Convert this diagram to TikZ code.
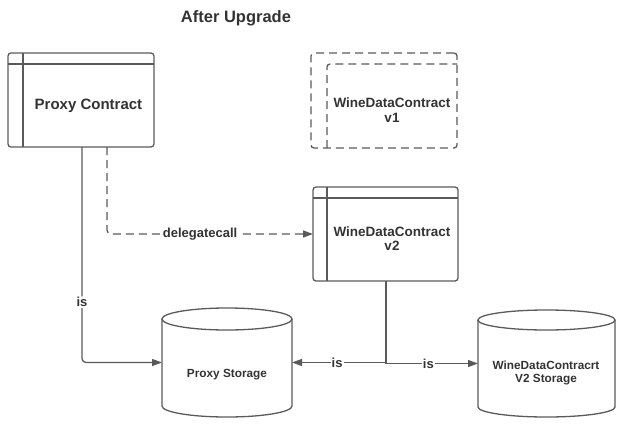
\documentclass[tikz,border=0pt]{standalone}
\usepackage{fontspec}
\setmainfont{Liberation Sans}
\usetikzlibrary{arrows.meta,calc}
\definecolor{ln}{HTML}{5A5A5A}
\definecolor{tx}{HTML}{333333}
\begin{document}
\begin{tikzpicture}[x=1pt,y=-1pt,
  lin/.style={draw=ln,line width=1.3pt},
  dsh/.style={lin,dash pattern=on 8pt off 5pt},
  arr/.style={lin,-{Triangle[length=10pt,width=7pt]}},
  lbl/.style={fill=white,text=tx,font=\bfseries\fontsize{13}{15}\selectfont,inner sep=1pt},
  boxsty/.style={lin,rounded corners=3pt,inner sep=0pt,outer sep=0pt},
  area/.style={inner sep=0pt,outer sep=0pt},
  txt/.style={text=tx,align=center,inner sep=0pt},
  big/.style={txt,font=\bfseries\fontsize{15}{18}\selectfont},
  mid/.style={txt,font=\bfseries\fontsize{13.5}{14.5}\selectfont},
  sml/.style={txt,font=\bfseries\fontsize{11.8}{12.5}\selectfont}
]
\useasboundingbox (0,0) rectangle (618,423);

% title
\node[txt,font=\bfseries\fontsize{16.5}{19}\selectfont] (title) at (236,18) {After Upgrade};

% Proxy Contract
\node[boxsty,minimum width=146pt,minimum height=94pt] (pc) at (81,100) {};
\draw[lin] (8,64) -- (154,64);
\draw[lin] (23,53) -- (23,147);
\node[big] (pct) at (88.5,105.5) {Proxy Contract};

% WineDataContract v1 (dashed)
\node[boxsty,dsh,minimum width=146pt,minimum height=95pt] (v1) at (384,100.5) {};
\draw[dsh,rounded corners=3pt] (327,148) -- (327,64) -- (457,64);
\node[mid] (v1t) at (392,110) {WineDataContract\\v1};

% WineDataContract v2
\node[boxsty,minimum width=145pt,minimum height=94pt] (v2) at (385.5,234) {};
\draw[lin] (313,198) -- (458,198);
\draw[lin] (327,187) -- (327,281);
\node[mid] (v2t) at (392,238.5) {WineDataContract\\v2};

% Proxy Storage cylinder
\node[area,minimum width=130pt,minimum height=109pt] (ps) at (227,362.5) {};
\draw[lin] (162,319) -- (162,406) arc[start angle=180,end angle=0,x radius=65,y radius=11] -- (292,319);
\draw[lin] (227,319) ellipse[x radius=65,y radius=11];
\node[sml] (pst) at (227,375) {Proxy Storage};

% V2 Storage cylinder
\node[area,minimum width=137pt,minimum height=107pt] (vs) at (546.5,363.5) {};
\draw[lin] (478,320) -- (478,407) arc[start angle=180,end angle=0,x radius=68.5,y radius=10] -- (615,320);
\draw[lin] (546.5,320) ellipse[x radius=68.5,y radius=10];
\node[sml] (vst) at (546,373) {WineDataContracrt\\V2 Storage};

% connectors
\draw[arr,dsh,rounded corners=4pt] ([xshift=26pt]pc.south) |- (v2.west)
  node[lbl,pos=0.726] (dl) {delegatecall};
\draw[arr,rounded corners=4pt] ([xshift=1pt]pc.south) |- (ps.west)
  node[lbl,pos=0.36] (is1) {is};
\draw[arr] ([xshift=0.5pt]v2.south) |- (ps.east)
  node[lbl,pos=0.76] (is2) {is};
\draw[arr] ([xshift=0.5pt]v2.south) |- (vs.west)
  node[lbl,pos=0.73] (is3) {is};
\end{tikzpicture}
\end{document}
